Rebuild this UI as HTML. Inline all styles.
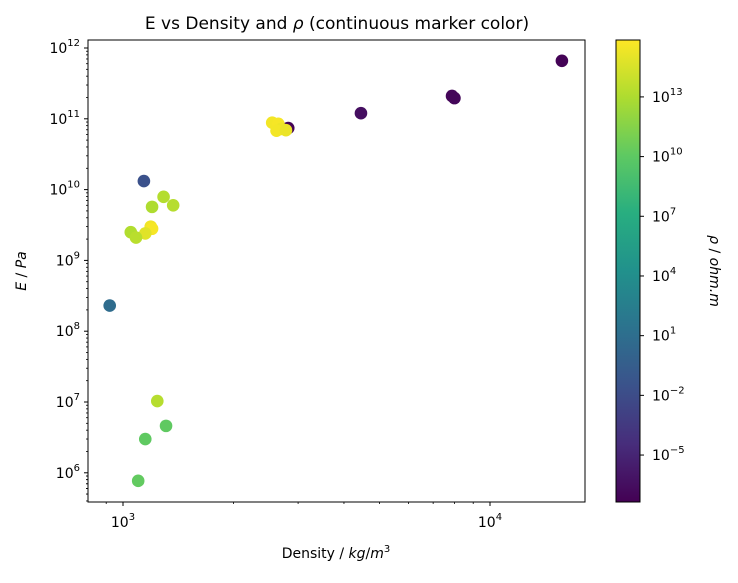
<!DOCTYPE html>
<html><head><meta charset="utf-8"><style>
body{margin:0;background:#fff;}
svg text{font-family:"DejaVu Sans","Liberation Sans",sans-serif;fill:#000;}
</style></head><body>
<svg id="c" width="738" height="578" xmlns="http://www.w3.org/2000/svg">
<defs><linearGradient id="vir" x1="0" y1="1" x2="0" y2="0">
<stop offset="0" stop-color="#440154"/><stop offset="0.125" stop-color="#472d7b"/><stop offset="0.25" stop-color="#3b528b"/><stop offset="0.375" stop-color="#2c728e"/><stop offset="0.5" stop-color="#21918c"/><stop offset="0.625" stop-color="#28ae80"/><stop offset="0.75" stop-color="#5ec962"/><stop offset="0.875" stop-color="#addc30"/><stop offset="1" stop-color="#fde725"/>
</linearGradient></defs>
<text x="337" y="29" font-size="17" text-anchor="middle">E vs Density and <tspan font-style="italic">ρ</tspan> (continuous marker color)</text>
<g id="marks"></g>
<rect x="88" y="40" width="497" height="462" fill="none" stroke="#000" stroke-width="1"/>
<g id="axes"></g>
<text x="336" y="558" font-size="14" text-anchor="middle">Density / <tspan font-style="italic">kg</tspan>/<tspan font-style="italic">m</tspan><tspan font-size="10" dy="-6">3</tspan></text>
<text transform="translate(26,271) rotate(-90)" font-size="14" text-anchor="middle"><tspan font-style="italic">E</tspan> / <tspan font-style="italic">Pa</tspan></text>
<rect x="616" y="40" width="24" height="462" fill="url(#vir)" stroke="#000" stroke-width="1"/>
<text transform="translate(710,271) rotate(90)" font-size="14" text-anchor="middle"><tspan font-style="italic">ρ</tspan> / <tspan font-style="italic">ohm.m</tspan></text>
</svg>
<script>
const densities=[15700,7880,8000,4450,2820,2550,2650,2700,2620,2780,1140,1290,1200,1370,1190,1200,1150,1050,1085,920,1240,1150,1310,1100];
const moduli=[6.6e11,2.1e11,1.96e11,1.2e11,7.4e10,8.8e10,8.5e10,7.2e10,6.8e10,6.9e10,1.32e10,7.9e9,5.7e9,6.0e9,3.0e9,2.8e9,2.4e9,2.5e9,2.1e9,2.3e8,1.03e7,3.0e6,4.6e6,7.7e5];
const rhoExp=[-7.2,-7,-7,-6.5,-7.2,15.5,15.6,15.3,15.5,15.2,-1.6,13.2,13,13.3,15.4,15.6,14.8,13.1,13.4,0.8,13.3,10.1,10.1,10.2];
const yTickLabels=["6","7","8","9","10","11","12"];
const xTickLabels=["3","4"];
const cbTickLabels=["-5","-2","1","4","7","10","13"];
const NS="http://www.w3.org/2000/svg";
const xs=d=>123+367*Math.log10(d/1000);
const ys=e=>48+70.8*(12-Math.log10(e));
const cMin=-7.36,cMax=15.86;
const cy=v=>502-(v-cMin)/(cMax-cMin)*462;
const vir=["#440154","#472d7b","#3b528b","#2c728e","#21918c","#28ae80","#5ec962","#addc30","#fde725"];
function hex(h){return [1,3,5].map(i=>parseInt(h.substr(i,2),16));}
function color(v){let t=Math.max(0,Math.min(1,(v-cMin)/(cMax-cMin)))*8;let i=Math.min(7,Math.floor(t)),f=t-i;const a=hex(vir[i]),b=hex(vir[i+1]);return "rgb("+a.map((x,k)=>Math.round(x+(b[k]-x)*f)).join(",")+")";}
function el(tag,attrs,parent,txt){const e=document.createElementNS(NS,tag);for(const k in attrs)e.setAttribute(k,attrs[k]);if(txt!==undefined)e.innerHTML=txt;parent.appendChild(e);return e;}
const marks=document.getElementById('marks');
densities.forEach((d,i)=>{
 const c=el('circle',{cx:xs(d),cy:ys(moduli[i]),r:6.3,fill:color(rhoExp[i])},marks);
 
 
});
const ax=document.getElementById('axes');
yTickLabels.forEach(l=>{
 const y=ys(Math.pow(10,+l));
 const t=el('line',{x1:84,x2:88,y1:y,y2:y,stroke:'#000'},ax);
 
 
 const tx=el('text',{x:80,y:y+5,'font-size':14,'text-anchor':'end'},ax,'10<tspan font-size="10" dy="-7">'+l+'</tspan>');
 
 
 for(let m=2;m<10;m++){const yy=ys(m*Math.pow(10,+l)/10);if(yy<502&&yy>40){const mt=el('line',{x1:86,x2:88,y1:yy,y2:yy,stroke:'#000','stroke-width':0.8},ax);
 
 }}
});
for(let m=5;m<10;m++){const yy=ys(m*1e5);if(yy<502){const mt=el('line',{x1:86,x2:88,y1:yy,y2:yy,stroke:'#000','stroke-width':0.8},ax);
 
 }}
xTickLabels.forEach(l=>{
 const x=xs(Math.pow(10,+l));
 const t=el('line',{x1:x,x2:x,y1:502,y2:506,stroke:'#000'},ax);
 
 
 const tx=el('text',{x:x,y:527,'font-size':14,'text-anchor':'middle'},ax,'10<tspan font-size="10" dy="-7">'+l+'</tspan>');
 
 
});
[900,2000,3000,4000,5000,6000,7000,8000,9000,20000].forEach(v=>{const x=xs(v);if(x>88&&x<585){const mt=el('line',{x1:x,x2:x,y1:502,y2:504,stroke:'#000','stroke-width':0.8},ax);
 
 }});
cbTickLabels.forEach(l=>{
 const y=cy(+l);
 const t=el('line',{x1:640,x2:644,y1:y,y2:y,stroke:'#000'},ax);
 
 
 const tx=el('text',{x:652,y:y+5,'font-size':14},ax,'10<tspan font-size="10" dy="-7">'+(l.startsWith('-')?'−'+l.slice(1):l)+'</tspan>');
 
 
});
</script>
</body></html>
